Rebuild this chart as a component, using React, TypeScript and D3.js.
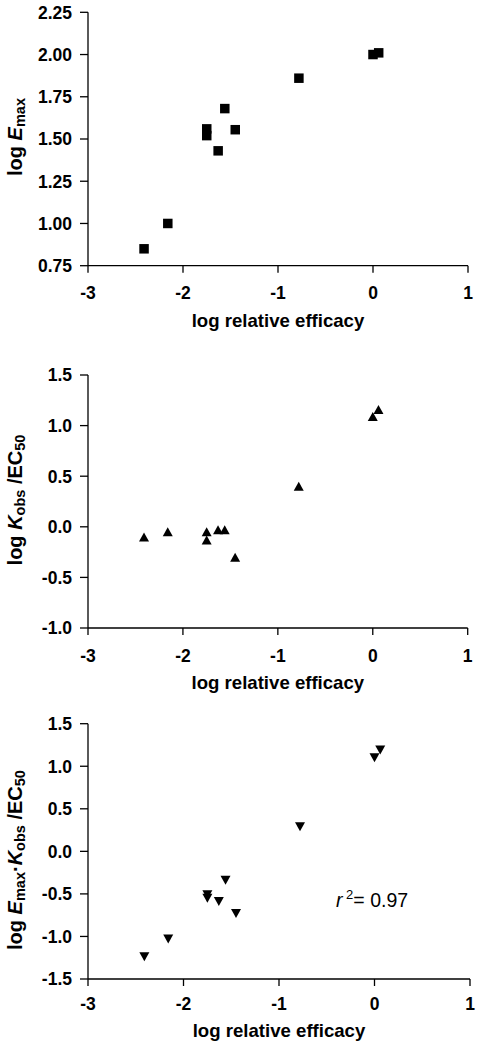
import React from "react";
import * as d3 from "d3";

// ---- data ----
const logRelEfficacy = [-2.41, -2.16, -1.75, -1.75, -1.63, -1.56, -1.45, -0.78, 0.0, 0.06];
const logEmax = [0.85, 1.0, 1.56, 1.52, 1.43, 1.68, 1.555, 1.86, 2.0, 2.01];
const logKobsEC50 = [-0.1, -0.05, -0.05, -0.13, -0.03, -0.03, -0.3, 0.4, 1.09, 1.16];
const logEmaxKobsEC50 = [-1.24, -1.03, -0.51, -0.55, -0.59, -0.34, -0.73, 0.29, 1.1, 1.19];

const xTicks = [-3, -2, -1, 0, 1];
const yTicks1 = [0.75, 1.0, 1.25, 1.5, 1.75, 2.0, 2.25];
const yTicks2 = [-1.0, -0.5, 0.0, 0.5, 1.0, 1.5];
const yTicks3 = [-1.5, -1.0, -0.5, 0.0, 0.5, 1.0, 1.5];
const xTitle = "log relative efficacy";
const r2Label = "0.97";

const FONT = "'Liberation Sans', Arial, Helvetica, sans-serif";
const TICK_FS = 17.5;
const TITLE_FS = 18.6;
const YLAB_FS = 20;
const SUB_FS = 14.5;

type PanelProps = {
  ys: number[];
  yDomain: [number, number];
  yTicks: number[];
  yDigits: number;
  xRange: [number, number];
  yRange: [number, number];
  marker: "square" | "up" | "down";
  yLabel: React.ReactNode;
  yLabelCenter: number;
  titleOffset: number;
  tickLabelOffset: number;
  children?: React.ReactNode;
};

function Panel(p: PanelProps) {
  const x = d3.scaleLinear().domain([-3, 1]).range(p.xRange);
  const y = d3.scaleLinear().domain(p.yDomain).range(p.yRange);
  const x0 = p.xRange[0];
  const yb = p.yRange[0];
  const tickLen = 8;
  const markerPath = (cx: number, cy: number) => {
    if (p.marker === "square") {
      const s = 9.5;
      return `M${cx - s / 2},${cy - s / 2}h${s}v${s}h${-s}Z`;
    }
    const w = 10, h = 9;
    if (p.marker === "up") {
      return `M${cx},${cy - h / 2}L${cx + w / 2},${cy + h / 2}L${cx - w / 2},${cy + h / 2}Z`;
    }
    return `M${cx - w / 2},${cy - h / 2}L${cx + w / 2},${cy - h / 2}L${cx},${cy + h / 2}Z`;
  };
  return (
    <g fontFamily={FONT}>
      <line x1={x0} x2={x0} y1={y(p.yDomain[1])} y2={yb} stroke="#000" strokeWidth={1.3} />
      <line x1={x0} x2={p.xRange[1]} y1={yb} y2={yb} stroke="#000" strokeWidth={1.3} />
      {p.yTicks.map((t) => (
        <g key={"y" + t}>
          <line x1={x0 - tickLen} x2={x0} y1={y(t)} y2={y(t)} stroke="#000" strokeWidth={1.3} />
          <text x={x0 - 16} y={y(t)} dy="0.36em" textAnchor="end" fontSize={TICK_FS} fontWeight="bold">
            {t.toFixed(p.yDigits)}
          </text>
        </g>
      ))}
      {xTicks.map((t) => (
        <g key={"x" + t}>
          <line x1={x(t)} x2={x(t)} y1={yb} y2={yb + 7} stroke="#000" strokeWidth={1.3} />
          <text x={x(t)} y={yb + p.tickLabelOffset} textAnchor="middle" fontSize={TICK_FS} fontWeight="bold">
            {String(t)}
          </text>
        </g>
      ))}
      <text
        x={(p.xRange[0] + p.xRange[1]) / 2}
        y={yb + p.titleOffset}
        textAnchor="middle"
        fontSize={TITLE_FS}
        fontWeight="bold"
      >
        {xTitle}
      </text>
      <text
        transform={`translate(22,${p.yLabelCenter}) rotate(-90)`}
        textAnchor="middle"
        fontSize={YLAB_FS}
        fontWeight="bold"
      >
        {p.yLabel}
      </text>
      {logRelEfficacy.map((v, i) => (
        <path key={"m" + i} d={markerPath(x(v), y(p.ys[i]))} fill="#000" />
      ))}
      {p.children}
    </g>
  );
}

export default function App() {
  const sub = (s: string) => (
    <tspan fontSize={SUB_FS} baselineShift="-22%">
      {s}
    </tspan>
  );
  return (
    <svg
      width={477}
      height={1046}
      style={{ position: "absolute", left: 0, top: 0, background: "#fff", display: "block" }}
    >
      <rect width={477} height={1046} fill="#fff" />
      <Panel
        ys={logEmax}
        yDomain={[0.75, 2.25]}
        yTicks={yTicks1}
        yDigits={2}
        xRange={[88, 468]}
        yRange={[265.7, 12.3]}
        marker="square"
        yLabelCenter={137}
        titleOffset={61}
        tickLabelOffset={33.6}
        yLabel={
          <>
            {"log "}
            <tspan fontStyle="italic">E</tspan>
            {sub("max")}
          </>
        }
      />
      <Panel
        ys={logKobsEC50}
        yDomain={[-1, 1.5]}
        yTicks={yTicks2}
        yDigits={1}
        xRange={[88, 467.7]}
        yRange={[628, 375]}
        marker="up"
        yLabelCenter={500}
        titleOffset={61}
        tickLabelOffset={33.7}
        yLabel={
          <>
            {"log "}
            <tspan fontStyle="italic">K</tspan>
            {sub("obs")}
            <tspan>{" /EC"}</tspan>
            {sub("50")}
          </>
        }
      />
      <Panel
        ys={logEmaxKobsEC50}
        yDomain={[-1.5, 1.5]}
        yTicks={yTicks3}
        yDigits={1}
        xRange={[88, 470]}
        yRange={[979, 723.7]}
        marker="down"
        yLabelCenter={860}
        titleOffset={58}
        tickLabelOffset={31}
        yLabel={
          <>
            {"log "}
            <tspan fontStyle="italic">E</tspan>
            {sub("max")}
            <tspan>{"·"}</tspan>
            <tspan fontStyle="italic">K</tspan>
            {sub("obs")}
            <tspan>{" /EC"}</tspan>
            {sub("50")}
          </>
        }
      >
        <text x={336} y={907} fontFamily={FONT} fontSize={19.5}>
          <tspan fontStyle="italic">r</tspan>
          <tspan fontSize={13} dy={-8}>{" 2"}</tspan>
          <tspan dy={8}>{"= " + r2Label}</tspan>
        </text>
      </Panel>
    </svg>
  );
}
